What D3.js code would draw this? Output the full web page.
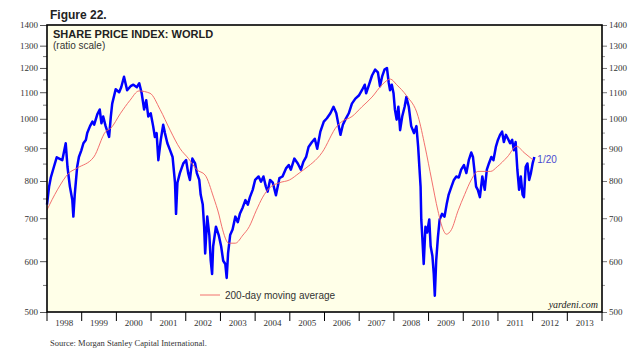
<!DOCTYPE html>
<html lang="en">
<head>
<meta charset="UTF-8">
<title>Share Price Index: World</title>
<script src="https://d3js.org/d3.v7.min.js"></script>
<style>
  body { margin: 0; background: #fff; }
  svg { display: block; }
</style>
</head>
<body>
<svg id="chart" width="640" height="360"></svg>
<script>
// MSCI world index (decimal year, index level)
const worldIndex = [
  [1998.00,735],[1998.06,784],[1998.11,810],[1998.20,842],[1998.28,871],[1998.44,862],[1998.54,916],[1998.59,842],
  [1998.66,784],[1998.73,747],[1998.76,704],[1998.80,762],[1998.87,842],[1998.92,872],[1998.99,893],[1999.05,916],
  [1999.12,927],[1999.16,950],[1999.24,974],[1999.31,990],[1999.36,979],[1999.45,1016],[1999.52,1034],[1999.57,984],
  [1999.62,1008],[1999.69,974],[1999.79,937],[1999.84,1008],[1999.88,1056],[1999.98,1112],[2000.08,1100],[2000.14,1120],
  [2000.22,1163],[2000.31,1108],[2000.41,1124],[2000.49,1130],[2000.59,1120],[2000.66,1136],[2000.73,1096],[2000.80,1034],
  [2000.86,1069],[2000.92,1008],[2000.99,1020],[2001.06,974],[2001.11,937],[2001.16,950],[2001.21,862],[2001.28,927],
  [2001.35,979],[2001.40,950],[2001.47,916],[2001.55,893],[2001.62,872],[2001.69,795],[2001.72,711],[2001.76,795],
  [2001.83,823],[2001.93,852],[2002.01,862],[2002.07,823],[2002.12,803],[2002.19,867],[2002.27,852],[2002.32,823],
  [2002.39,803],[2002.43,762],[2002.49,735],[2002.53,679],[2002.56,617],[2002.62,704],[2002.68,659],[2002.72,601],
  [2002.76,573],[2002.79,633],[2002.87,679],[2002.95,659],[2003.02,633],[2003.08,601],[2003.14,594],[2003.18,565],
  [2003.22,617],[2003.28,659],[2003.35,672],[2003.43,704],[2003.50,690],[2003.56,711],[2003.64,727],[2003.72,747],
  [2003.79,735],[2003.85,755],[2003.93,775],[2004.00,803],[2004.10,813],[2004.17,798],[2004.24,813],[2004.31,784],
  [2004.36,770],[2004.43,803],[2004.51,795],[2004.60,760],[2004.70,808],[2004.79,813],[2004.89,837],[2004.97,847],
  [2005.03,833],[2005.13,867],[2005.23,852],[2005.32,833],[2005.39,857],[2005.47,872],[2005.54,904],[2005.64,920],
  [2005.72,931],[2005.79,898],[2005.88,955],[2005.98,990],[2006.07,1002],[2006.17,1020],[2006.26,1044],[2006.34,1020],
  [2006.41,974],[2006.46,944],[2006.53,979],[2006.60,997],[2006.70,1020],[2006.79,1056],[2006.89,1075],[2006.99,1087],
  [2007.08,1108],[2007.16,1130],[2007.20,1096],[2007.27,1124],[2007.37,1168],[2007.46,1193],[2007.54,1181],[2007.60,1124],
  [2007.66,1163],[2007.73,1193],[2007.80,1200],[2007.85,1140],[2007.89,1108],[2007.94,1130],[2007.99,1096],[2008.03,1034],
  [2008.08,997],[2008.13,1044],[2008.18,960],[2008.24,1008],[2008.31,1044],[2008.36,1081],[2008.43,1044],[2008.50,974],
  [2008.58,950],[2008.65,974],[2008.70,904],[2008.74,833],[2008.77,784],[2008.79,697],[2008.82,654],[2008.86,594],
  [2008.91,679],[2008.96,665],[2009.02,697],[2009.06,633],[2009.11,612],[2009.15,573],[2009.18,530],[2009.22,601],
  [2009.27,654],[2009.32,697],[2009.39,711],[2009.46,704],[2009.52,735],[2009.58,762],[2009.66,784],[2009.73,803],
  [2009.80,813],[2009.87,810],[2009.94,833],[2010.02,847],[2010.09,823],[2010.16,862],[2010.23,886],[2010.28,872],
  [2010.32,833],[2010.37,784],[2010.42,775],[2010.48,755],[2010.55,813],[2010.62,775],[2010.68,833],[2010.74,852],
  [2010.81,872],[2010.87,862],[2010.94,904],[2011.00,927],[2011.06,944],[2011.12,955],[2011.17,920],[2011.23,944],
  [2011.29,931],[2011.35,916],[2011.41,927],[2011.46,893],[2011.51,920],[2011.56,833],[2011.61,775],[2011.66,813],
  [2011.71,762],[2011.75,755],[2011.80,842],[2011.85,852],[2011.90,803],[2011.95,823],[2012.00,852],[2012.05,872]
];

// 200-day moving average
const movingAvg = [
  [1998.00,721],[1998.30,775],[1998.63,823],[1998.87,838],[1999.35,872],[1999.69,955],[1999.84,967],[2000.12,1020],
  [2000.39,1068],[2000.65,1105],[2000.97,1096],[2001.26,1034],[2001.55,960],[2001.84,898],[2002.08,867],[2002.32,833],
  [2002.56,817],[2002.80,755],[2002.96,708],[2003.04,679],[2003.24,640],[2003.43,640],[2003.65,659],[2003.83,679],
  [2004.03,719],[2004.22,755],[2004.41,780],[2004.70,795],[2004.99,803],[2005.27,823],[2005.40,833],[2005.93,886],
  [2006.36,974],[2006.50,990],[2006.79,1008],[2007.08,1044],[2007.37,1081],[2007.66,1130],[2007.90,1153],[2008.08,1130],
  [2008.36,1087],[2008.70,1008],[2008.90,904],[2009.09,803],[2009.27,719],[2009.42,672],[2009.51,661],[2009.66,672],
  [2009.85,719],[2010.04,762],[2010.23,803],[2010.42,828],[2010.60,828],[2010.79,828],[2010.98,842],[2011.27,872],
  [2011.54,906],[2011.75,886],[2012.02,862]
];

const years = d3.range(1998, 2014);
const yTicks = [500, 600, 700, 800, 900, 1000, 1100, 1200, 1300, 1400];
const yMinorTicks = [550, 650, 750, 850, 950, 1050, 1150, 1250];
const lastLabel = "1/20";

const plot = {left: 47, right: 602, top: 25, bottom: 312};
const svg = d3.select("#chart");

const x = d3.scaleLinear().domain([1998, 2014]).range([plot.left, plot.right]);
const y = d3.scaleLog().domain([500, 1400]).range([plot.bottom, plot.top]);

const serif = "'Liberation Serif', 'Times New Roman', serif";
const sans = "'Liberation Sans', Arial, sans-serif";

// plot background
svg.append("rect")
  .attr("x", plot.left).attr("y", plot.top)
  .attr("width", plot.right - plot.left).attr("height", plot.bottom - plot.top)
  .attr("fill", "#ffffe8");

// left axis
const leftAxis = svg.append("g").attr("transform", `translate(${plot.left},0)`)
  .call(d3.axisLeft(y).tickValues(yTicks).tickFormat(d3.format("d")).tickSize(7).tickPadding(2));
leftAxis.select(".domain").remove();
leftAxis.selectAll("line").attr("stroke", "#555");
leftAxis.selectAll("text").attr("font-family", serif).attr("font-size", 9).attr("fill", "#333");
svg.append("g").selectAll("line").data(yMinorTicks).join("line")
  .attr("x1", plot.left - 4).attr("x2", plot.left)
  .attr("y1", d => y(d)).attr("y2", d => y(d))
  .attr("stroke", "#777");

// right axis
const rightAxis = svg.append("g").attr("transform", `translate(${plot.right},0)`)
  .call(d3.axisRight(y).tickValues(yTicks).tickFormat(d3.format("d")).tickSize(5).tickPadding(2));
rightAxis.select(".domain").remove();
rightAxis.selectAll("line").attr("stroke", "#777");
rightAxis.selectAll("text").attr("font-family", serif).attr("font-size", 9).attr("fill", "#333");
svg.append("g").selectAll("line").data(yMinorTicks).join("line")
  .attr("x1", plot.right).attr("x2", plot.right + 3)
  .attr("y1", d => y(d)).attr("y2", d => y(d))
  .attr("stroke", "#999");

// bottom axis: ticks at year boundaries, labels centred in each year
svg.append("g").selectAll("line").data(d3.range(1998, 2015)).join("line")
  .attr("x1", d => x(d)).attr("x2", d => x(d))
  .attr("y1", plot.bottom).attr("y2", plot.bottom + 9)
  .attr("stroke", "#000");
svg.append("g").selectAll("text").data(years).join("text")
  .attr("x", d => x(d + 0.5)).attr("y", plot.bottom + 14)
  .attr("text-anchor", "middle")
  .attr("font-family", serif).attr("font-size", 9).attr("fill", "#333")
  .text(d => d);

// series
const line = d3.line().x(d => x(d[0])).y(d => y(d[1]));
svg.append("path").datum(worldIndex)
  .attr("d", line)
  .attr("fill", "none").attr("stroke", "#0000ff")
  .attr("stroke-width", 2.5).attr("stroke-linejoin", "round");
svg.append("path").datum(movingAvg)
  .attr("d", line.curve(d3.curveMonotoneX))
  .attr("fill", "none").attr("stroke", "#f06060").attr("stroke-width", 0.9);

// plot frame
svg.append("rect")
  .attr("x", plot.left).attr("y", plot.top)
  .attr("width", plot.right - plot.left).attr("height", plot.bottom - plot.top)
  .attr("fill", "none").attr("stroke", "#000").attr("stroke-width", 1.6);

// last value label
const last = worldIndex[worldIndex.length - 1];
svg.append("text")
  .attr("x", x(last[0]) + 3).attr("y", y(last[1]) + 6)
  .attr("font-family", sans).attr("font-size", 10).attr("fill", "#4a4ad0")
  .text(lastLabel);

// titles
svg.append("text").attr("x", 50).attr("y", 19)
  .attr("font-family", sans).attr("font-size", 12).attr("font-weight", "bold").attr("fill", "#222")
  .text("Figure 22.");
svg.append("text").attr("x", 53).attr("y", 38)
  .attr("font-family", sans).attr("font-size", 11).attr("font-weight", "bold").attr("fill", "#222")
  .text("SHARE PRICE INDEX: WORLD");
svg.append("text").attr("x", 53).attr("y", 49)
  .attr("font-family", sans).attr("font-size", 10).attr("fill", "#333")
  .text("(ratio scale)");

// legend
svg.append("line").attr("x1", 200).attr("x2", 220).attr("y1", 295).attr("y2", 295)
  .attr("stroke", "#f06060").attr("stroke-width", 0.9);
svg.append("text").attr("x", 225).attr("y", 298.5)
  .attr("font-family", sans).attr("font-size", 10).attr("fill", "#333")
  .text("200-day moving average");

// credits
svg.append("text").attr("x", 598).attr("y", 308)
  .attr("text-anchor", "end")
  .attr("font-family", serif).attr("font-size", 10).attr("font-style", "italic").attr("fill", "#222")
  .text("yardeni.com");
svg.append("text").attr("x", 50).attr("y", 346)
  .attr("font-family", serif).attr("font-size", 8.5).attr("fill", "#333")
  .text("Source: Morgan Stanley Capital International.");
</script>
</body>
</html>
